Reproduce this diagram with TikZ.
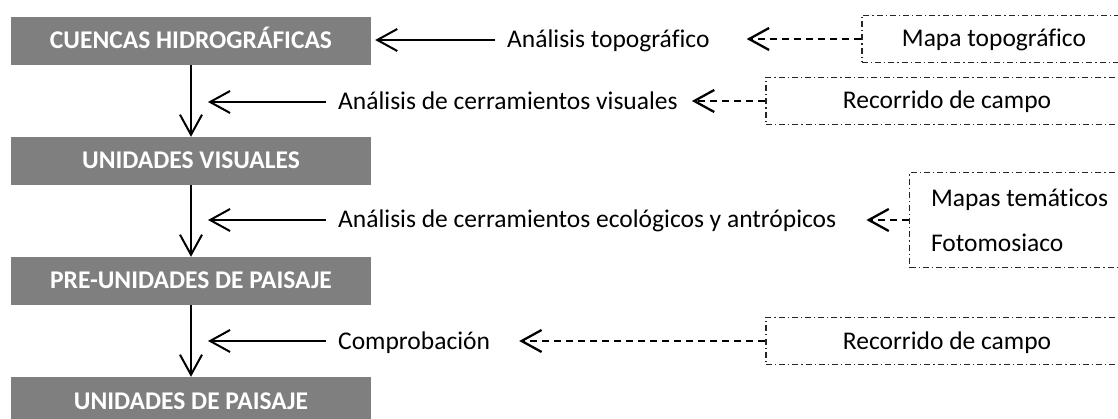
\documentclass[tikz,border=0pt]{standalone}
\usepackage{fontspec}
\setmainfont[RawFeature={-liga}]{Carlito}
\usetikzlibrary{arrows.meta}
\definecolor{grisetapa}{HTML}{7F7F7F}
\begin{document}
\begin{tikzpicture}[x=1pt,y=-1pt,
    etapa/.style={fill=grisetapa,text=white,font=\fontsize{25.5}{30}\selectfont\bfseries,
        minimum width=360pt,minimum height=48pt,inner sep=0pt,text height=16pt,text depth=0pt},
    analisis/.style={anchor=west,font=\fontsize{25.5}{30}\selectfont,inner xsep=12pt,
        inner ysep=0pt,text height=16pt,text depth=0pt},
    fuente/.style={draw=black!85,line width=1.1pt,dash pattern=on 6pt off 3pt on 1.2pt off 3pt,
        font=\fontsize{25.5}{30}\selectfont,minimum height=47pt,inner sep=0pt,
        text height=16pt,text depth=0pt},
    flujo/.style={line width=2pt,-{Straight Barb[length=20pt,width=22pt]}},
    aporte/.style={line width=2.3pt,dash pattern=on 7pt off 5pt,-{Straight Barb[length=20pt,width=22pt]}}]
    \useasboundingbox (0,0) rectangle (1118,419);
    \clip (0,0) rectangle (1118,419);
    \node[etapa] (cuencas) at (191,41) {CUENCAS HIDROGRÁFICAS};
    \node[etapa] (visuales) at (191,161) {UNIDADES VISUALES};
    \node[etapa] (preunidades) at (191,281) {PRE-UNIDADES DE PAISAJE};
    \node[etapa] (unidades) at (191,401) {UNIDADES DE PAISAJE};
    \node[analisis] (topografico) at (495,40) {Análisis topográfico};
    \node[analisis] (cervisual) at (326,102) {Análisis de cerramientos visuales};
    \node[analisis] (cerecol) at (326,220) {Análisis de cerramientos ecológicos y antrópicos};
    \node[analisis] (comprob) at (326,341) {Comprobación};
    \node[fuente,minimum width=264pt] (mapa) at (994,39) {Mapa topográfico};
    \node[fuente,minimum width=362pt] (recorrido) at (947,101) {Recorrido de campo};
    \node[fuente,text height=,text depth=,font=\fontsize{25.5}{45}\selectfont,align=left,anchor=west,
        minimum width=220pt,minimum height=95pt,inner xsep=13pt] (tematicos) at (909,220)
        {Mapas temáticos\\Fotomosiaco};
    \node[fuente,minimum width=362pt] (recorridob) at (947,341) {Recorrido de campo};
    \draw[flujo] (cuencas) -- (visuales);
    \draw[flujo] (visuales) -- (preunidades);
    \draw[flujo] (preunidades) -- (unidades);
    \draw[flujo,shorten >=4pt] (topografico.west) -- (topografico.west -| cuencas.east);
    \draw[flujo,shorten >=17pt] (cervisual.west) -- (cervisual.west -| cuencas.center);
    \draw[flujo,shorten >=17pt] (cerecol.west) -- (cerecol.west -| cuencas.center);
    \draw[flujo,shorten >=17pt] (comprob.west) -- (comprob.west -| cuencas.center);
    \draw[aporte,shorten >=25pt] (mapa.west) -- (mapa.west -| topografico.east);
    \draw[aporte,shorten >=2pt] (recorrido.west) -- (recorrido.west -| cervisual.east);
    \draw[aporte,shorten >=18pt] (tematicos.west) -- (tematicos.west -| cerecol.east);
    \draw[aporte,shorten >=17pt] (recorridob.west) -- (recorridob.west -| comprob.east);
\end{tikzpicture}
\end{document}
